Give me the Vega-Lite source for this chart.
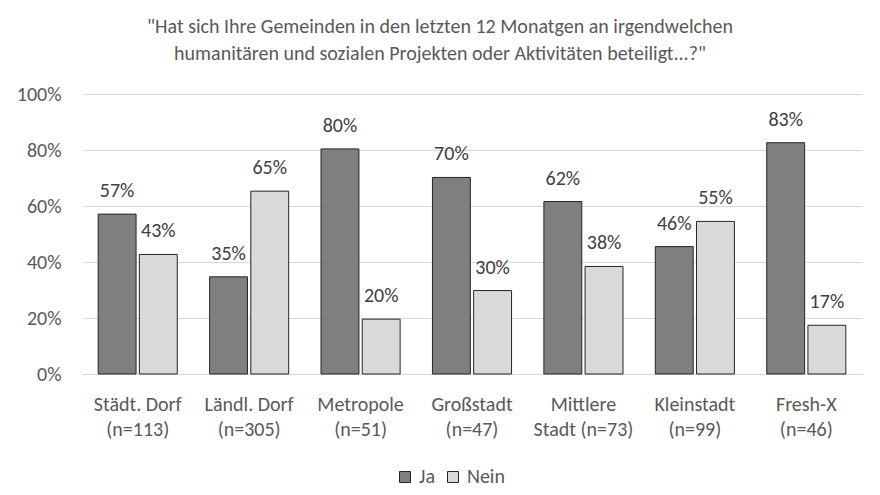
{
  "$schema": "https://vega.github.io/schema/vega-lite/v6.json",
  "width": 780,
  "height": 280,
  "autosize": "none",
  "padding": {"left": 82, "top": 94, "right": 18, "bottom": 121},
  "background": "white",
  "config": {
    "font": "Carlito, 'Liberation Sans Narrow', Lato, sans-serif",
    "view": {"stroke": null}
  },
  "title": {
    "text": ["\"Hat sich Ihre Gemeinden in den letzten 12 Monatgen an irgendwelchen", "humanitären und sozialen Projekten oder Aktivitäten beteiligt...?\""],
    "fontSize": 20,
    "fontWeight": "normal",
    "color": "#595959",
    "lineHeight": 27,
    "offset": 20,
    "dx": -32,
    "anchor": "middle"
  },
  "data": {
    "values": [
      {"cat": "Städt. Dorf|(n=113)", "serie": "Ja", "wert": 0.571, "label": "57%"},
      {"cat": "Städt. Dorf|(n=113)", "serie": "Nein", "wert": 0.427, "label": "43%"},
      {"cat": "Ländl. Dorf|(n=305)", "serie": "Ja", "wert": 0.347, "label": "35%"},
      {"cat": "Ländl. Dorf|(n=305)", "serie": "Nein", "wert": 0.653, "label": "65%"},
      {"cat": "Metropole|(n=51)", "serie": "Ja", "wert": 0.804, "label": "80%"},
      {"cat": "Metropole|(n=51)", "serie": "Nein", "wert": 0.196, "label": "20%"},
      {"cat": "Großstadt|(n=47)", "serie": "Ja", "wert": 0.702, "label": "70%"},
      {"cat": "Großstadt|(n=47)", "serie": "Nein", "wert": 0.298, "label": "30%"},
      {"cat": "Mittlere|Stadt (n=73)", "serie": "Ja", "wert": 0.616, "label": "62%"},
      {"cat": "Mittlere|Stadt (n=73)", "serie": "Nein", "wert": 0.384, "label": "38%"},
      {"cat": "Kleinstadt|(n=99)", "serie": "Ja", "wert": 0.455, "label": "46%"},
      {"cat": "Kleinstadt|(n=99)", "serie": "Nein", "wert": 0.545, "label": "55%"},
      {"cat": "Fresh-X|(n=46)", "serie": "Ja", "wert": 0.826, "label": "83%"},
      {"cat": "Fresh-X|(n=46)", "serie": "Nein", "wert": 0.174, "label": "17%"}
    ]
  },
  "encoding": {
    "x": {
      "field": "cat",
      "type": "nominal",
      "sort": null,
      "title": null,
      "scale": {"paddingInner": 0.29, "paddingOuter": 0.145},
      "axis": {
        "labelExpr": "split(datum.label, '|')",
        "labelAngle": 0,
        "labelFontSize": 20,
        "labelColor": "#595959",
        "labelLineHeight": 25,
        "labelPadding": 20,
        "ticks": false,
        "domainColor": "#d9d9d9",
        "domainWidth": 1
      }
    },
    "xOffset": {"field": "serie", "type": "nominal", "scale": {"paddingInner": 0.08, "paddingOuter": 0}},
    "y": {
      "field": "wert",
      "type": "quantitative",
      "title": null,
      "scale": {"domain": [0, 1]},
      "axis": {
        "format": ".0%",
        "values": [0, 0.2, 0.4, 0.6, 0.8, 1],
        "labelFontSize": 20,
        "labelColor": "#595959",
        "labelPadding": 21,
        "ticks": false,
        "domain": false,
        "gridColor": "#d9d9d9",
        "gridWidth": 1
      }
    }
  },
  "layer": [
    {
      "mark": {"type": "bar", "stroke": "#262626", "strokeWidth": 1},
      "encoding": {
        "color": {
          "field": "serie",
          "type": "nominal",
          "scale": {"domain": ["Ja", "Nein"], "range": ["#7f7f7f", "#d9d9d9"]},
          "legend": {
            "orient": "none",
            "legendX": 313,
            "legendY": 373,
            "direction": "horizontal",
            "title": null,
            "symbolType": "square",
            "symbolSize": 121,
            "symbolStrokeColor": "#262626",
            "symbolStrokeWidth": 1,
            "labelFontSize": 20,
            "labelColor": "#595959",
            "columnPadding": 8,
            "labelOffset": 4
          }
        }
      }
    },
    {
      "mark": {"type": "text", "dy": -23, "fontSize": 20, "color": "#404040"},
      "encoding": {"text": {"field": "label"}}
    }
  ]
}
